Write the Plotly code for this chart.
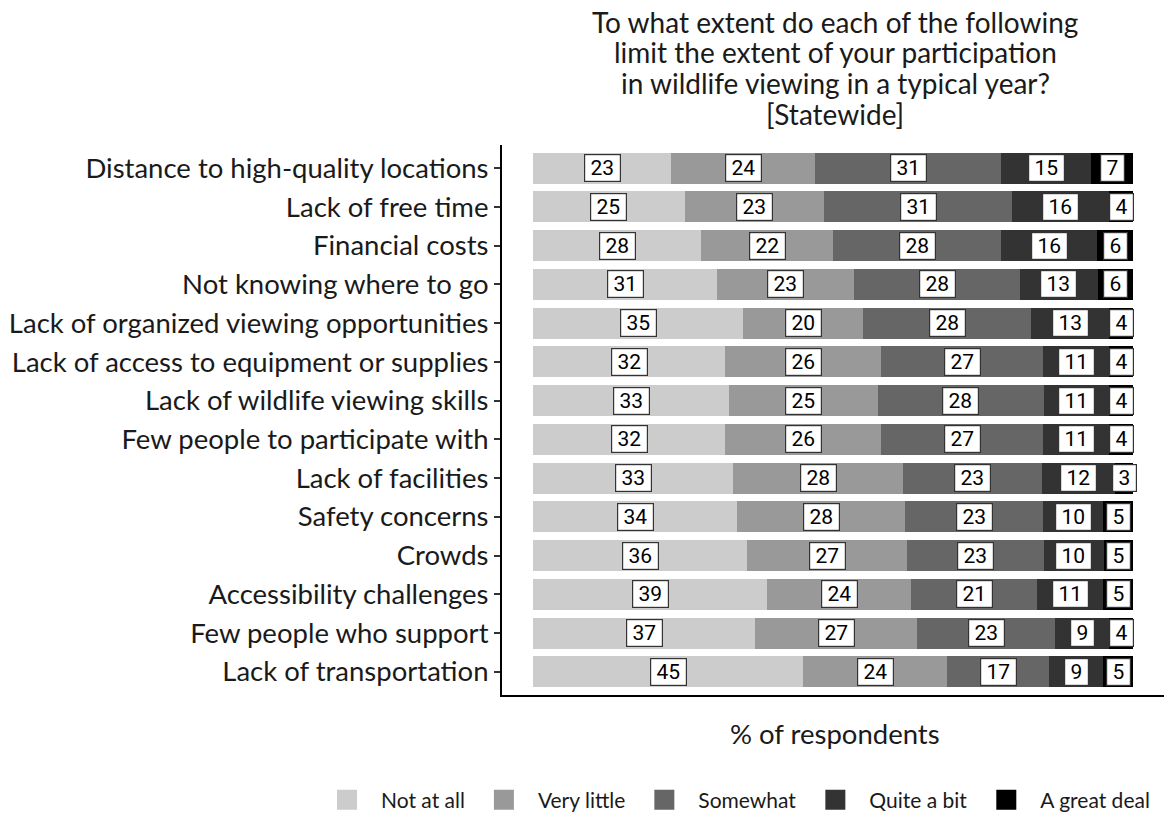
import plotly.graph_objects as go

categories = [
    "Distance to high-quality locations",
    "Lack of free time",
    "Financial costs",
    "Not knowing where to go",
    "Lack of organized viewing opportunities",
    "Lack of access to equipment or supplies",
    "Lack of wildlife viewing skills",
    "Few people to participate with",
    "Lack of facilities",
    "Safety concerns",
    "Crowds",
    "Accessibility challenges",
    "Few people who support",
    "Lack of transportation",
]
levels = ["Not at all", "Very little", "Somewhat", "Quite a bit", "A great deal"]
not_at_all = [23, 25, 28, 31, 35, 32, 33, 32, 33, 34, 36, 39, 37, 45]
very_little = [24, 23, 22, 23, 20, 26, 25, 26, 28, 28, 27, 24, 27, 24]
somewhat = [31, 31, 28, 28, 28, 27, 28, 27, 23, 23, 23, 21, 23, 17]
quite_a_bit = [15, 16, 16, 13, 13, 11, 11, 11, 12, 10, 10, 11, 9, 9]
great_deal = [7, 4, 6, 6, 4, 4, 4, 4, 3, 5, 5, 5, 4, 5]
colors = ["#cccccc", "#999999", "#666666", "#333333", "#000000"]

title_lines = [
    "To what extent do each of the following",
    "limit the extent of your participation",
    "in wildlife viewing in a typical year?",
    "[Statewide]",
]

series = [not_at_all, very_little, somewhat, quite_a_bit, great_deal]
totals = [sum(v) for v in zip(*series)]
norm = [[v / t * 100 for v, t in zip(s, totals)] for s in series]

main_font = "Lato, Open Sans, sans-serif"
label_font = "Liberation Sans Narrow, Arial Narrow, Roboto, sans-serif"
text_col = "#1a1a1a"

W, H = 1164, 810
ML, MR, MT, MB = 494, 4, 137, 123
plot_w = W - ML - MR
plot_h = H - MT - MB

fig = go.Figure()
for name, vals, col in zip(levels, norm, colors):
    fig.add_trace(go.Bar(
        y=categories, x=vals, orientation="h", name=name,
        marker=dict(color=col, line=dict(width=0)),
        showlegend=False, hoverinfo="skip",
    ))
for name, col in zip(levels, colors):
    fig.add_trace(go.Scatter(
        x=[None], y=[None], mode="markers", name=name,
        marker=dict(symbol="square", size=16, color=col,
                    line=dict(color=col, width=4)),
    ))

annotations = []
for i, cat in enumerate(categories):
    cum = 0.0
    for s_raw, s_norm in zip(series, norm):
        w = s_norm[i]
        annotations.append(dict(
            x=cum + w / 2, y=cat, xref="x", yref="y",
            text="\u2009" + str(s_raw[i]) + "\u2009", showarrow=False,
            font=dict(family=label_font, size=21, color="black"),
            bgcolor="white", bordercolor="#333333", borderwidth=1.2, borderpad=1,
        ))
        cum += w

for line, yc in zip(title_lines, [14, 44, 75, 106]):
    annotations.append(dict(
        x=0.5, xref="paper", y=(H - MB - yc) / plot_h, yref="paper",
        xanchor="center", yanchor="middle", text=line, showarrow=False,
        font=dict(family=main_font, size=28, color=text_col),
    ))
annotations.append(dict(
    x=0.5, xref="paper", y=(H - MB - 725) / plot_h, yref="paper",
    xanchor="center", yanchor="middle", text="% of respondents", showarrow=False,
    font=dict(family=main_font, size=27.5, color=text_col),
))

fig.update_layout(
    width=W, height=H,
    barmode="stack", bargap=0.2,
    plot_bgcolor="white", paper_bgcolor="white",
    margin=dict(l=ML, r=MR, t=MT, b=MB, autoexpand=False),
    xaxis=dict(
        range=[-5.2, 105.8], showgrid=False, zeroline=False,
        showticklabels=False, ticks="",
        showline=True, linecolor="black", linewidth=2,
    ),
    yaxis=dict(
        categoryorder="array", categoryarray=categories,
        autorange=False, range=[13.6, -0.6],
        showgrid=False, zeroline=False,
        showline=True, linecolor="black", linewidth=2,
        ticks="outside", ticklen=6, tickwidth=1.5, tickcolor="#333333",
        tickfont=dict(family=main_font, size=27.5, color=text_col),
    ),
    legend=dict(
        orientation="h", traceorder="normal",
        xref="paper", x=(305 - ML) / plot_w, xanchor="left",
        yref="paper", y=(H - MB - 792) / plot_h, yanchor="middle",
        font=dict(family=main_font, size=21, color=text_col),
        itemwidth=58,
    ),
    annotations=annotations,
)

fig.write_html("out.html")
